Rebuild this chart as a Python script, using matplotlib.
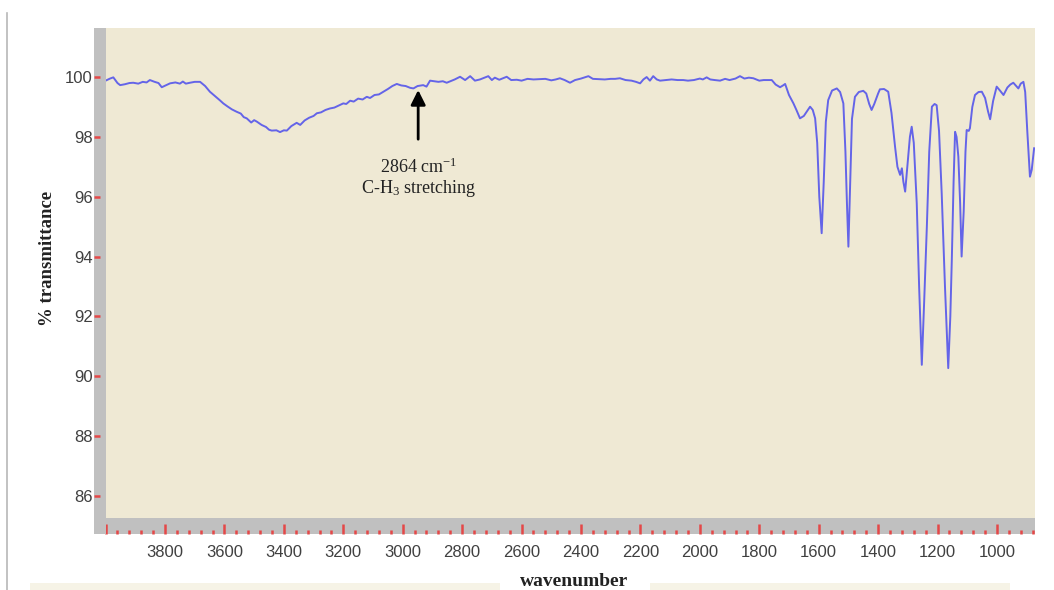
import matplotlib
matplotlib.use("Agg")
import matplotlib.pyplot as plt
from matplotlib.patches import Rectangle
from matplotlib.lines import Line2D
from matplotlib.ticker import MultipleLocator, FuncFormatter

plt.rcParams['mathtext.fontset'] = 'custom'
plt.rcParams['mathtext.rm'] = 'Liberation Serif'
plt.rcParams['mathtext.it'] = 'Liberation Serif:italic'

# IR spectrum (wavenumber in cm-1, % transmittance)
wavenumber = [
    4000, 3985, 3974, 3960, 3951, 3935, 3920, 3907, 3890, 3875, 3862, 3851,
    3835, 3822, 3811, 3798, 3783, 3765, 3750, 3740, 3730, 3716, 3700, 3682,
    3665, 3649, 3630, 3615, 3604, 3590, 3575, 3559, 3545, 3535, 3525, 3510,
    3500, 3491, 3475, 3460, 3450, 3441, 3425, 3413, 3400, 3390, 3375, 3365,
    3357, 3345, 3330, 3315, 3300, 3289, 3275, 3260, 3245, 3230, 3215, 3200,
    3190, 3177, 3165, 3150, 3135, 3121, 3110, 3095, 3080, 3065, 3050, 3035,
    3020, 3005, 2990, 2975, 2964, 2950, 2931, 2920, 2908, 2895, 2880, 2865,
    2852, 2840, 2825, 2807, 2790, 2773, 2757, 2740, 2725, 2712, 2700, 2690,
    2675, 2650, 2635, 2616, 2600, 2580, 2560, 2540, 2520, 2500, 2485, 2471,
    2455, 2437, 2420, 2400, 2375, 2360, 2341, 2320, 2300, 2285, 2269, 2250,
    2230, 2215, 2201, 2190, 2179, 2168, 2157, 2145, 2134, 2115, 2095, 2075,
    2056, 2040, 2020, 2000, 1990, 1977, 1965, 1950, 1932, 1915, 1900, 1880,
    1865, 1850, 1835, 1820, 1800, 1785, 1770, 1758, 1745, 1730, 1720, 1713,
    1700, 1685, 1675, 1663, 1650, 1640, 1629, 1620, 1612, 1605, 1598, 1590,
    1583, 1576, 1568, 1555, 1539, 1528, 1517, 1510, 1505, 1500, 1494, 1488,
    1478, 1465, 1450, 1440, 1430, 1422, 1413, 1400, 1394, 1380, 1366, 1355,
    1343, 1335, 1326, 1320, 1315, 1309, 1300, 1293, 1287, 1280, 1270, 1262,
    1253, 1245, 1236, 1228, 1219, 1210, 1203, 1195, 1186, 1175, 1164, 1157,
    1152, 1146, 1141, 1136, 1130, 1124, 1119, 1112, 1106, 1102, 1095, 1091,
    1083, 1074, 1062, 1051, 1040, 1030, 1023, 1013, 1001, 990, 978, 965,
    955, 945, 935, 928, 920, 911, 905, 898, 889, 883, 875,
]
transmittance = [
    99.88, 99.95, 99.99, 99.80, 99.73, 99.76, 99.80, 99.81, 99.78, 99.84, 99.82, 99.90,
    99.84, 99.80, 99.66, 99.72, 99.79, 99.82, 99.78, 99.85, 99.78, 99.81, 99.84, 99.84,
    99.70, 99.51, 99.35, 99.22, 99.12, 99.02, 98.92, 98.84, 98.78, 98.66, 98.62, 98.48,
    98.56, 98.51, 98.40, 98.33, 98.24, 98.21, 98.22, 98.16, 98.22, 98.21, 98.36, 98.42,
    98.47, 98.40, 98.55, 98.64, 98.70, 98.79, 98.82, 98.90, 98.95, 98.98, 99.05, 99.12,
    99.10, 99.21, 99.18, 99.28, 99.25, 99.34, 99.30, 99.40, 99.42, 99.51, 99.60, 99.70,
    99.77, 99.72, 99.70, 99.64, 99.62, 99.70, 99.73, 99.68, 99.88, 99.86, 99.84, 99.86,
    99.81, 99.86, 99.92, 100.01, 99.90, 100.03, 99.88, 99.92, 99.98, 100.03, 99.90, 99.98,
    99.91, 100.01, 99.90, 99.91, 99.88, 99.94, 99.92, 99.93, 99.94, 99.89, 99.92, 99.96,
    99.90, 99.81, 99.90, 99.95, 100.03, 99.94, 99.93, 99.92, 99.94, 99.94, 99.96, 99.90,
    99.88, 99.84, 99.79, 99.92, 100.00, 99.88, 100.03, 99.92, 99.88, 99.90, 99.92, 99.90,
    99.90, 99.88, 99.90, 99.95, 99.92, 99.99, 99.92, 99.90, 99.88, 99.94, 99.90, 99.95,
    100.03, 99.95, 99.98, 99.96, 99.88, 99.90, 99.90, 99.90, 99.75, 99.66, 99.72, 99.77,
    99.40, 99.12, 98.90, 98.62, 98.70, 98.85, 99.01, 98.90, 98.62, 97.80, 96.00, 94.78,
    96.50, 98.50, 99.23, 99.55, 99.62, 99.50, 99.12, 97.50, 95.80, 94.33, 96.50, 98.60,
    99.34, 99.50, 99.54, 99.45, 99.10, 98.90, 99.10, 99.45, 99.59, 99.60, 99.51, 98.80,
    97.67, 97.00, 96.73, 96.95, 96.50, 96.17, 97.20, 98.00, 98.34, 97.80, 95.78, 93.00,
    90.38, 92.50, 95.00, 97.50, 99.01, 99.10, 99.06, 98.20, 96.11, 93.00, 90.27, 92.00,
    93.89, 96.50, 98.17, 98.00, 97.34, 95.80, 94.00, 95.50, 97.50, 98.23, 98.20, 98.29,
    99.00, 99.40, 99.50, 99.51, 99.30, 98.85, 98.59, 99.20, 99.68, 99.55, 99.40, 99.65,
    99.75, 99.81, 99.70, 99.62, 99.78, 99.84, 99.50, 98.20, 96.67, 96.90, 97.62,
]

W, H = 1054, 590
gray = '#c0c0c0'
red = '#e44848'
beige = '#efe9d4'
lbl = '#404040'
tickfont = ['Liberation Sans Narrow', 'Liberation Sans']


def fx(px):
    return px / W


def fy(py):
    return 1 - py / H


fig = plt.figure(figsize=(W / 100, H / 100), dpi=100)

# decorations of the original screenshot
fig.add_artist(Line2D([fx(7), fx(7)], [fy(13), fy(590)], color='#b8b8b8', lw=1.2))
fig.add_artist(Rectangle((fx(30), fy(590)), fx(470), 7 / H, color='#f6f3e6', lw=0))
fig.add_artist(Rectangle((fx(650), fy(590)), fx(360), 7 / H, color='#f6f3e6', lw=0))
fig.add_artist(Rectangle((fx(94), fy(534)), fx(12), 16 / H, color=gray, lw=0))

left, right, top, bottom = 105.6, 1035, 28, 518
ax = fig.add_axes([fx(left), fy(bottom), fx(right - left), (bottom - top) / H])
ax.set_facecolor(beige)
ax.plot(wavenumber, transmittance, color='#6464e8', lw=1.4)
ax.set_xlim(4000, 872)
ax.set_ylim(85.26, 101.64)
for s in ax.spines.values():
    s.set_visible(False)
ax.tick_params(left=False, bottom=False, labelleft=False, labelbottom=False)

# bottom gray strip with the x ticks
axb = fig.add_axes([fx(left), fy(534), fx(right - left), 16 / H], sharex=ax)
axb.set_facecolor(gray)
for s in axb.spines.values():
    s.set_visible(False)
axb.xaxis.set_major_locator(MultipleLocator(200))
axb.xaxis.set_minor_locator(MultipleLocator(40))
axb.xaxis.set_major_formatter(FuncFormatter(lambda v, p: '' if v > 3900 else f'{v:.0f}'))
axb.tick_params(axis='x', which='major', direction='in', length=7, width=1.8,
                color=red, labelcolor=lbl, labelsize=12, pad=8)
axb.tick_params(axis='x', which='minor', direction='in', length=3, width=1.8, color=red)
axb.tick_params(axis='y', left=False, labelleft=False)
for t in axb.get_xticklabels():
    t.set_family(tickfont)

# left gray strip with the y ticks
axl = fig.add_axes([fx(94), fy(bottom), fx(left - 94), (bottom - top) / H], sharey=ax)
axl.set_facecolor(gray)
for s in axl.spines.values():
    s.set_visible(False)
axl.set_yticks(range(86, 101, 2))
axl.tick_params(axis='y', direction='in', length=4, width=1.8, color=red,
                labelcolor=lbl, labelsize=12, pad=1)
axl.tick_params(axis='x', bottom=False, labelbottom=False)
for t in axl.get_yticklabels():
    t.set_family(tickfont)
ax.set_ylim(85.26, 101.64)

# annotation
ax.annotate('', xy=(2948, 99.66), xytext=(2948, 97.83),
            arrowprops=dict(arrowstyle='-|>', color='black', lw=2, mutation_scale=22))
ax.text(2948, 96.99, '2864 cm$^{-1}$', ha='center', va='center',
        family='Liberation Serif', fontsize=13, color='#222222')
ax.text(2948, 96.29, 'C-H$_3$ stretching', ha='center', va='center',
        family='Liberation Serif', fontsize=13, color='#222222')

fig.text(fx(47), fy(258), '% transmittance', rotation=90, ha='center', va='center',
         family='Liberation Serif', fontweight='bold', fontsize=13.5, color='#222222')
fig.text(fx(574), fy(581), 'wavenumber', ha='center', va='center',
         family='Liberation Serif', fontweight='bold', fontsize=14, color='#222222')

fig.savefig('out.png', dpi=100)
